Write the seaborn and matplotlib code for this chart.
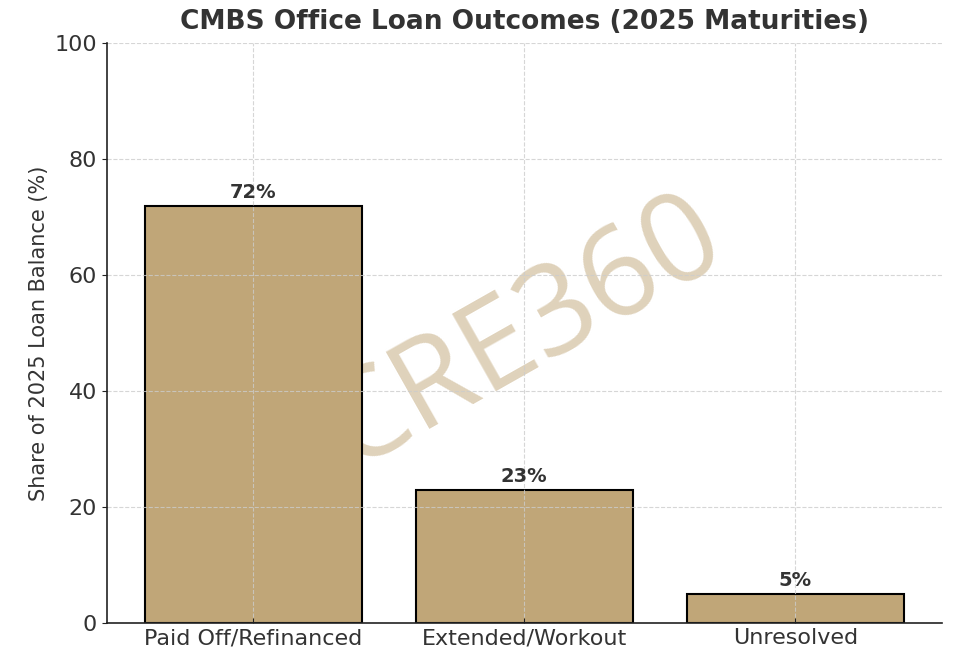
import matplotlib
matplotlib.use("Agg")
import matplotlib.pyplot as plt
import seaborn as sns
import pandas as pd

# Data
outcomes = ["Paid Off/Refinanced", "Extended/Workout", "Unresolved"]
share_pct = [72, 23, 5]

df = pd.DataFrame({"Outcome": outcomes, "Share": share_pct})

bar_color = "#c0a678"
text_color = "#333333"

fig, ax = plt.subplots(figsize=(9.79, 6.56), dpi=100)
fig.subplots_adjust(left=0.109, right=0.962, top=0.934, bottom=0.050)

sns.barplot(data=df, x="Outcome", y="Share", color=bar_color, saturation=1,
            edgecolor="black", linewidth=1.5, width=0.8, ax=ax)

# Value labels above each bar
for p, v in zip(ax.patches, share_pct):
    ax.annotate(f"{v}%", (p.get_x() + p.get_width() / 2, p.get_height()),
                xytext=(0, 3), textcoords="offset points",
                ha="center", va="bottom", fontsize=14, fontweight="bold",
                color=text_color)

# Watermark behind the bars
ax.text(1.06, 45, "CRE360", fontsize=89, family=["Open Sans", "DejaVu Sans"],
        color=bar_color, alpha=0.5, rotation=29.5, rotation_mode="anchor",
        ha="center", va="baseline", zorder=0.5)

ax.set_xlim(-0.54, 2.54)
ax.set_ylim(0, 100)
ax.set_title("CMBS Office Loan Outcomes (2025 Maturities)", fontsize=19,
             fontweight="bold", color=text_color, pad=10)
ax.set_xlabel("")
ax.set_ylabel("Share of 2025 Loan Balance (%)", fontsize=15, color=text_color)

ax.grid(True, linestyle="--", color="#cccccc", linewidth=0.8, alpha=0.8)
ax.tick_params(axis="x", direction="in", labelsize=16, colors=text_color)
ax.tick_params(axis="y", direction="out", labelsize=16, colors=text_color)
ax.tick_params(axis="both", color="#222222")

for side in ["top", "right"]:
    ax.spines[side].set_visible(False)
for side in ["left", "bottom"]:
    ax.spines[side].set_color("#222222")
    ax.spines[side].set_linewidth(1.2)

plt.savefig("out.png", dpi=100)
